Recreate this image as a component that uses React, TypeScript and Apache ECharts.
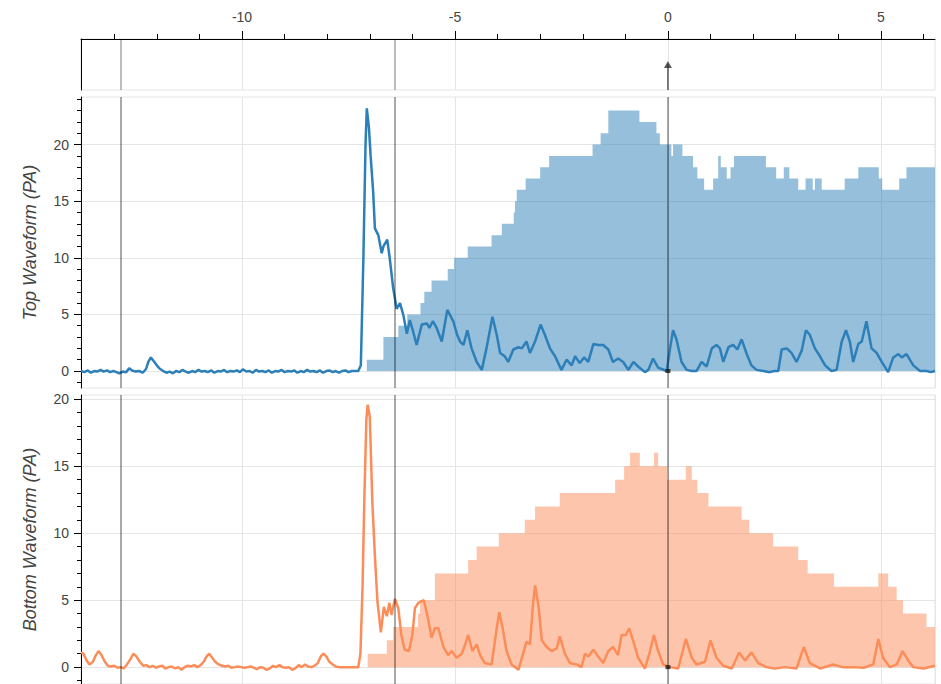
import React, { useEffect, useRef } from "react";
import * as echarts from "echarts";

// ---- data (x in time units, values in PA) ----
const xTickLabels = [-10, -5, 0, 5];
const topYTicks = [0, 5, 10, 15, 20];
const bottomYTicks = [0, 5, 10, 15, 20];
const spanLines = [-12.84, -6.41];
const triggerLine = [0];

// stepped cumulative areas: [x where level starts, level]
const topArea = [
  [-7.07, 1], [-6.68, 3], [-6.33, 4], [-6.12, 5], [-5.81, 6], [-5.72, 7], [-5.55, 8],
  [-5.17, 9], [-5.02, 10], [-4.7, 11], [-4.14, 12], [-3.9, 13], [-3.62, 14], [-3.59, 15],
  [-3.55, 16], [-3.34, 17], [-3.0, 18], [-2.79, 19], [-1.77, 20], [-1.58, 21], [-1.4, 23],
  [-0.67, 22], [-0.27, 21], [-0.19, 20], [0.08, 19], [0.12, 20], [0.34, 19], [0.59, 18],
  [0.69, 17], [0.85, 16], [1.06, 17], [1.18, 19], [1.24, 18], [1.38, 17], [1.47, 18],
  [1.55, 19], [2.3, 18], [2.54, 17], [2.72, 18], [2.85, 17], [3.06, 16], [3.23, 17],
  [3.4, 16], [3.45, 17], [3.61, 16], [4.15, 17], [4.47, 18], [4.95, 17], [5.03, 16],
  [5.43, 17], [5.6, 18], [6.27, 18],
];

const bottomArea = [
  [-7.05, 1], [-6.6, 2], [-6.45, 3], [-5.87, 4], [-5.82, 5], [-5.47, 7], [-4.69, 8],
  [-4.49, 9], [-3.97, 10], [-3.36, 11], [-3.12, 12], [-2.54, 13], [-1.24, 14], [-1.03, 15],
  [-0.89, 16], [-0.66, 15], [-0.33, 16], [-0.23, 15], [-0.02, 14], [0.42, 15], [0.56, 14],
  [0.69, 13], [0.95, 12], [1.73, 11], [1.91, 10], [2.47, 9], [3.06, 8], [3.28, 7],
  [3.9, 6], [4.94, 7], [5.17, 6], [5.37, 5], [5.52, 4], [6.07, 3], [6.27, 3],
];

const topWave = [
  [-13.78, 0.0], [-13.7, -0.1], [-13.62, 0.05], [-13.55, -0.15], [-13.47, 0.0], [-13.4, -0.05],
  [-13.32, 0.1], [-13.25, -0.05], [-13.17, 0.05], [-13.1, -0.1], [-13.02, 0.0], [-12.95, -0.1],
  [-12.88, -0.2], [-12.8, -0.05], [-12.72, -0.1], [-12.65, 0.25], [-12.58, 0.05], [-12.5, -0.05],
  [-12.42, 0.0], [-12.33, -0.15], [-12.25, 0.2], [-12.2, 0.8], [-12.14, 1.2], [-12.08, 0.9],
  [-12.0, 0.5], [-11.93, 0.2], [-11.85, 0.0], [-11.77, -0.15], [-11.7, -0.05], [-11.62, -0.2],
  [-11.55, 0.0], [-11.47, -0.1], [-11.4, 0.1], [-11.32, -0.05], [-11.25, -0.15], [-11.17, 0.0],
  [-11.1, -0.1], [-11.02, 0.1], [-10.95, -0.05], [-10.87, 0.0], [-10.8, -0.1], [-10.72, 0.05],
  [-10.65, -0.15], [-10.57, 0.0], [-10.5, -0.05], [-10.42, 0.1], [-10.35, -0.1], [-10.27, 0.0],
  [-10.2, -0.05], [-10.12, 0.05], [-10.05, -0.1], [-9.98, 0.15], [-9.9, -0.05], [-9.82, 0.0],
  [-9.75, -0.15], [-9.67, 0.1], [-9.6, -0.05], [-9.52, 0.0], [-9.45, -0.1], [-9.37, 0.05],
  [-9.3, -0.15], [-9.22, 0.0], [-9.15, -0.05], [-9.07, 0.1], [-9.0, -0.1], [-8.92, 0.0],
  [-8.85, -0.05], [-8.77, 0.05], [-8.7, -0.15], [-8.62, 0.0], [-8.55, -0.1], [-8.47, 0.1],
  [-8.4, -0.05], [-8.32, 0.0], [-8.25, -0.1], [-8.17, 0.05], [-8.1, -0.15], [-8.02, 0.0],
  [-7.95, 0.05], [-7.87, -0.1], [-7.8, 0.0], [-7.72, -0.15], [-7.65, 0.0], [-7.57, 0.05],
  [-7.5, -0.1], [-7.42, 0.0], [-7.35, 0.0], [-7.27, 0.0], [-7.21, 0.5], [-7.15, 10],
  [-7.1, 20], [-7.07, 23.2], [-7.02, 21.5], [-6.98, 19], [-6.92, 15.8], [-6.88, 12.6],
  [-6.8, 12.0], [-6.72, 10.4], [-6.68, 11.0], [-6.59, 11.6], [-6.53, 9.9], [-6.45, 7.3],
  [-6.37, 5.5], [-6.29, 6.0], [-6.21, 4.9], [-6.13, 3.3], [-6.06, 4.5], [-5.99, 3.6],
  [-5.9, 2.3], [-5.78, 4.1], [-5.66, 4.2], [-5.6, 3.8], [-5.52, 4.4], [-5.43, 3.8],
  [-5.31, 2.6], [-5.18, 5.4], [-5.04, 4.4], [-4.95, 3.2], [-4.88, 2.6], [-4.8, 2.3],
  [-4.71, 3.6], [-4.61, 2.0], [-4.49, 0.8], [-4.37, 0.1], [-4.26, 2.0], [-4.12, 4.8],
  [-4.02, 3.2], [-3.94, 1.6], [-3.83, 1.3], [-3.75, 0.8], [-3.63, 1.9], [-3.51, 2.1],
  [-3.43, 2.0], [-3.32, 2.6], [-3.24, 1.6], [-3.12, 2.6], [-2.99, 4.1], [-2.89, 3.2],
  [-2.77, 2.0], [-2.65, 1.3], [-2.5, 0.1], [-2.38, 1.0], [-2.26, 0.5], [-2.18, 1.3],
  [-2.07, 0.7], [-1.97, 1.2], [-1.87, 0.8], [-1.75, 2.4], [-1.64, 2.3], [-1.52, 2.3],
  [-1.4, 1.9], [-1.29, 0.8], [-1.17, 1.1], [-1.05, 0.8], [-0.93, 0.1], [-0.81, 0.8],
  [-0.7, 0.4], [-0.54, -0.1], [-0.46, 0.1], [-0.35, 1.1], [-0.23, 0.3], [-0.03, 0.0],
  [0.05, 2.0], [0.12, 3.6], [0.2, 2.8], [0.32, 0.8], [0.44, 0.1], [0.56, 0.0], [0.67, 0.0],
  [0.79, 0.8], [0.91, 0.4], [1.03, 2.0], [1.14, 2.3], [1.22, 2.0], [1.3, 0.8], [1.42, 2.1],
  [1.53, 2.3], [1.63, 1.9], [1.73, 2.8], [1.85, 1.5], [1.96, 0.5], [2.08, 0.1], [2.24, 0.0],
  [2.39, -0.1], [2.5, 0.0], [2.59, 0.0], [2.67, 1.9], [2.79, 2.0], [2.9, 1.6], [3.02, 0.8],
  [3.14, 1.8], [3.24, 3.6], [3.33, 3.2], [3.45, 2.0], [3.57, 1.3], [3.69, 0.5], [3.84, 0.0],
  [3.96, 0.1], [4.08, 2.6], [4.18, 3.6], [4.27, 2.6], [4.35, 0.8], [4.47, 2.4], [4.55, 2.6],
  [4.66, 4.4], [4.78, 2.0], [4.9, 1.6], [5.02, 0.8], [5.17, -0.1], [5.29, 1.2], [5.41, 1.5],
  [5.49, 1.2], [5.6, 1.5], [5.76, 0.5], [5.92, 0.0], [6.07, 0.0], [6.17, -0.1], [6.27, 0.0],
];

const bottomWave = [
  [-13.78, 1.1], [-13.72, 1.0], [-13.65, 0.5], [-13.58, 0.2], [-13.5, 0.4], [-13.43, 0.9],
  [-13.37, 1.2], [-13.3, 0.9], [-13.22, 0.4], [-13.15, 0.1], [-13.08, 0.05], [-13.0, 0.1],
  [-12.92, -0.05], [-12.85, 0.0], [-12.78, -0.1], [-12.7, 0.2], [-12.62, 0.6], [-12.55, 1.0],
  [-12.48, 0.8], [-12.4, 0.4], [-12.32, 0.1], [-12.25, 0.15], [-12.17, 0.0], [-12.1, 0.1],
  [-12.02, -0.05], [-11.95, 0.05], [-11.87, 0.1], [-11.8, -0.1], [-11.72, 0.0], [-11.65, 0.05],
  [-11.57, -0.1], [-11.5, 0.0], [-11.42, -0.2], [-11.35, 0.0], [-11.27, 0.1], [-11.2, 0.05],
  [-11.12, 0.15], [-11.05, 0.0], [-10.97, 0.15], [-10.9, 0.4], [-10.83, 0.8], [-10.77, 1.0],
  [-10.7, 0.7], [-10.63, 0.4], [-10.55, 0.2], [-10.47, 0.1], [-10.4, 0.05], [-10.32, 0.1],
  [-10.25, -0.05], [-10.17, 0.0], [-10.1, 0.05], [-10.02, 0.0], [-9.95, -0.05], [-9.87, 0.0],
  [-9.8, 0.05], [-9.72, -0.05], [-9.65, -0.15], [-9.57, 0.0], [-9.5, -0.05], [-9.42, -0.2],
  [-9.35, -0.1], [-9.27, 0.1], [-9.2, 0.0], [-9.12, 0.15], [-9.05, 0.0], [-8.97, -0.05],
  [-8.9, 0.0], [-8.82, -0.2], [-8.75, -0.1], [-8.67, 0.15], [-8.6, 0.0], [-8.52, 0.2],
  [-8.45, 0.05], [-8.37, 0.0], [-8.3, 0.1], [-8.22, 0.3], [-8.15, 0.8], [-8.09, 1.0],
  [-8.02, 0.8], [-7.95, 0.4], [-7.87, 0.2], [-7.8, 0.05], [-7.72, 0.0], [-7.65, 0.0],
  [-7.57, 0.0], [-7.5, 0.0], [-7.42, 0.0], [-7.35, 0.0], [-7.27, 0.0], [-7.22, 1.0],
  [-7.17, 6.0], [-7.13, 12.3], [-7.08, 18.5], [-7.05, 19.6], [-7.0, 18.7], [-6.94, 12.3],
  [-6.88, 8.3], [-6.82, 4.9], [-6.74, 2.6], [-6.67, 4.5], [-6.6, 3.8], [-6.54, 4.8],
  [-6.49, 3.9], [-6.41, 5.1], [-6.33, 4.4], [-6.26, 2.4], [-6.18, 1.3], [-6.08, 1.2],
  [-6.0, 2.4], [-5.94, 4.4], [-5.86, 4.8], [-5.73, 5.0], [-5.63, 3.6], [-5.55, 2.2],
  [-5.47, 2.9], [-5.39, 2.9], [-5.27, 1.5], [-5.16, 0.9], [-5.08, 1.2], [-4.96, 0.7],
  [-4.84, 1.0], [-4.76, 1.7], [-4.69, 2.4], [-4.59, 1.2], [-4.49, 1.7], [-4.41, 0.9],
  [-4.3, 0.3], [-4.14, 0.2], [-4.02, 2.9], [-3.96, 4.1], [-3.88, 2.9], [-3.79, 1.2],
  [-3.67, 0.2], [-3.51, -0.2], [-3.41, 0.9], [-3.32, 1.9], [-3.24, 1.7], [-3.17, 4.6],
  [-3.12, 6.1], [-3.04, 4.6], [-2.96, 2.0], [-2.85, 1.5], [-2.73, 1.2], [-2.61, 1.4],
  [-2.54, 2.3], [-2.42, 1.0], [-2.3, 0.3], [-2.14, 0.2], [-2.03, 0.0], [-1.95, 1.0],
  [-1.87, 0.8], [-1.75, 1.3], [-1.64, 0.8], [-1.52, 0.3], [-1.4, 1.2], [-1.29, 1.5],
  [-1.17, 0.9], [-1.09, 2.4], [-0.99, 2.4], [-0.91, 2.9], [-0.81, 1.9], [-0.7, 0.7],
  [-0.54, -0.1], [-0.42, 1.2], [-0.33, 2.4], [-0.23, 1.2], [-0.11, 0.2], [0.05, 0.0],
  [0.24, -0.1], [0.42, 2.1], [0.56, 0.7], [0.67, 0.2], [0.87, 0.4], [1.0, 2.0], [1.14, 0.7],
  [1.3, 0.1], [1.5, -0.1], [1.67, 1.1], [1.81, 0.5], [1.96, 1.1], [2.12, 0.3], [2.31, 0.0],
  [2.5, -0.1], [2.75, 0.0], [3.02, -0.1], [3.19, 1.5], [3.33, 0.3], [3.57, -0.1], [3.88, 0.2],
  [4.1, 0.0], [4.35, 0.0], [4.6, -0.05], [4.82, 0.2], [4.94, 2.1], [5.05, 0.7], [5.21, 0.0],
  [5.37, 0.2], [5.51, 1.2], [5.64, 0.5], [5.76, 0.0], [6.0, -0.1], [6.27, 0.1],
];

const triggerMarker = [[0, 0.5]];
const triggerStem = [[0, 0], [0, 0.5]];
const zeroMarker = [[0, 0]];

// ---- styling ----
const FONT = "Liberation Sans, Arial, Helvetica, sans-serif";
const BLUE = "#2c7fb8";
const BLUE_FILL = "rgba(44,127,184,0.5)";
const ORANGE = "#fc8d59";
const ORANGE_FILL = "rgba(252,141,89,0.5)";
const GRID_LINE = "#e5e5e5";
const X_MIN = -13.78;
const X_MAX = 6.27;

const gridBox = (top: number, height: number) => ({
  left: 81,
  width: 854,
  top,
  height,
  show: true,
  borderColor: GRID_LINE,
  borderWidth: 1,
  backgroundColor: "transparent",
  containLabel: false,
});

const plotX = (gridIndex: number) => ({
  type: "value",
  gridIndex,
  min: X_MIN,
  max: X_MAX,
  splitNumber: 4,
  axisLine: { show: false },
  axisTick: { show: false },
  axisLabel: { show: false },
  splitLine: { show: true, lineStyle: { color: GRID_LINE, width: 1 } },
});

const plotY = (gridIndex: number, min: number, max: number, ticks: number[], name: string) => ({
  type: "value",
  gridIndex,
  min,
  max,
  splitNumber: 5,
  name,
  nameLocation: "middle",
  nameGap: 42,
  nameTextStyle: { fontFamily: FONT, fontStyle: "italic", fontSize: 18, color: "#444" },
  axisLine: { show: true, onZero: false, lineStyle: { color: "#000", width: 1 } },
  axisTick: { show: true, inside: false, length: 7, customValues: ticks, lineStyle: { color: "#000", width: 1 } },
  minorTick: { show: true, splitNumber: 5, length: 4, lineStyle: { color: "#000", width: 1 } },
  axisLabel: {
    show: true,
    customValues: ticks,
    margin: 12,
    fontFamily: FONT,
    fontSize: 14,
    color: "#444",
  },
  splitLine: { show: true, lineStyle: { color: GRID_LINE, width: 1 } },
});

const spanMark = (values: number[], color: string) => ({
  silent: true,
  symbol: ["none", "none"],
  label: { show: false },
  animation: false,
  lineStyle: { color, width: 1.5, type: "solid" },
  data: values.map((v) => ({ xAxis: v })),
});

const option = {
  animation: false,
  backgroundColor: "#ffffff",
  textStyle: { fontFamily: FONT },
  grid: [gridBox(39, 51), gridBox(97, 291), gridBox(395, 291)],
  xAxis: [
    {
      type: "value",
      gridIndex: 0,
      position: "top",
      min: X_MIN,
      max: X_MAX,
      splitNumber: 4,
      axisLine: { show: true, onZero: false, lineStyle: { color: "#000", width: 1 } },
      axisTick: { show: true, inside: false, length: 8, customValues: xTickLabels, lineStyle: { color: "#000", width: 1 } },
      minorTick: { show: true, splitNumber: 5, length: 5, lineStyle: { color: "#000", width: 1 } },
      axisLabel: { show: true, customValues: xTickLabels, margin: 15, fontFamily: FONT, fontSize: 14, color: "#444" },
      splitLine: { show: true, lineStyle: { color: GRID_LINE, width: 1 } },
    },
    plotX(1),
    plotX(2),
  ],
  yAxis: [
    {
      type: "value",
      gridIndex: 0,
      min: 0,
      max: 1,
      axisLine: { show: true, onZero: false, lineStyle: { color: "#000", width: 1 } },
      axisTick: { show: false },
      axisLabel: { show: false },
      splitLine: { show: false },
    },
    plotY(1, -1.5, 24.2, topYTicks, "Top Waveform (PA)"),
    plotY(2, -1.26, 20.32, bottomYTicks, "Bottom Waveform (PA)"),
  ],
  series: [
    {
      type: "line",
      xAxisIndex: 0,
      yAxisIndex: 0,
      data: triggerStem,
      symbol: "none",
      lineStyle: { color: "#555", width: 1.5 },
      markLine: spanMark(spanLines, "rgba(0,0,0,0.35)"),
      z: 3,
    },
    {
      type: "scatter",
      xAxisIndex: 0,
      yAxisIndex: 0,
      data: triggerMarker,
      symbol: "triangle",
      symbolSize: [8, 7],
      itemStyle: { color: "#333" },
      z: 4,
    },
    {
      type: "line",
      xAxisIndex: 1,
      yAxisIndex: 1,
      data: topArea,
      step: "end",
      symbol: "none",
      lineStyle: { width: 0 },
      areaStyle: { color: BLUE_FILL, opacity: 1 },
      z: 1,
    },
    {
      type: "line",
      xAxisIndex: 1,
      yAxisIndex: 1,
      data: topWave,
      symbol: "none",
      lineStyle: { color: BLUE, width: 2.5 },
      z: 2,
    },
    {
      type: "scatter",
      xAxisIndex: 1,
      yAxisIndex: 1,
      data: zeroMarker,
      symbol: "rect",
      symbolSize: [5, 4],
      itemStyle: { color: "#222" },
      markLine: {
        ...spanMark(spanLines.concat(triggerLine), "rgba(0,0,0,0.45)"),
      },
      z: 3,
    },
    {
      type: "line",
      xAxisIndex: 2,
      yAxisIndex: 2,
      data: bottomArea,
      step: "end",
      symbol: "none",
      lineStyle: { width: 0 },
      areaStyle: { color: ORANGE_FILL, opacity: 1 },
      z: 1,
    },
    {
      type: "line",
      xAxisIndex: 2,
      yAxisIndex: 2,
      data: bottomWave,
      symbol: "none",
      lineStyle: { color: ORANGE, width: 2.5 },
      z: 2,
    },
    {
      type: "scatter",
      xAxisIndex: 2,
      yAxisIndex: 2,
      data: zeroMarker,
      symbol: "rect",
      symbolSize: [5, 4],
      itemStyle: { color: "#222" },
      markLine: {
        ...spanMark(spanLines.concat(triggerLine), "rgba(0,0,0,0.45)"),
      },
      z: 3,
    },
  ],
};

export default function App() {
  const ref = useRef<HTMLDivElement>(null);
  useEffect(() => {
    if (!ref.current) return;
    const chart = echarts.init(ref.current, null, { renderer: "svg" });
    chart.setOption(option as any);
    return () => {
      chart.dispose();
    };
  }, []);
  return (
    <div
      ref={ref}
      style={{ position: "fixed", left: 0, top: 0, width: 941, height: 684, background: "#fff" }}
    />
  );
}
